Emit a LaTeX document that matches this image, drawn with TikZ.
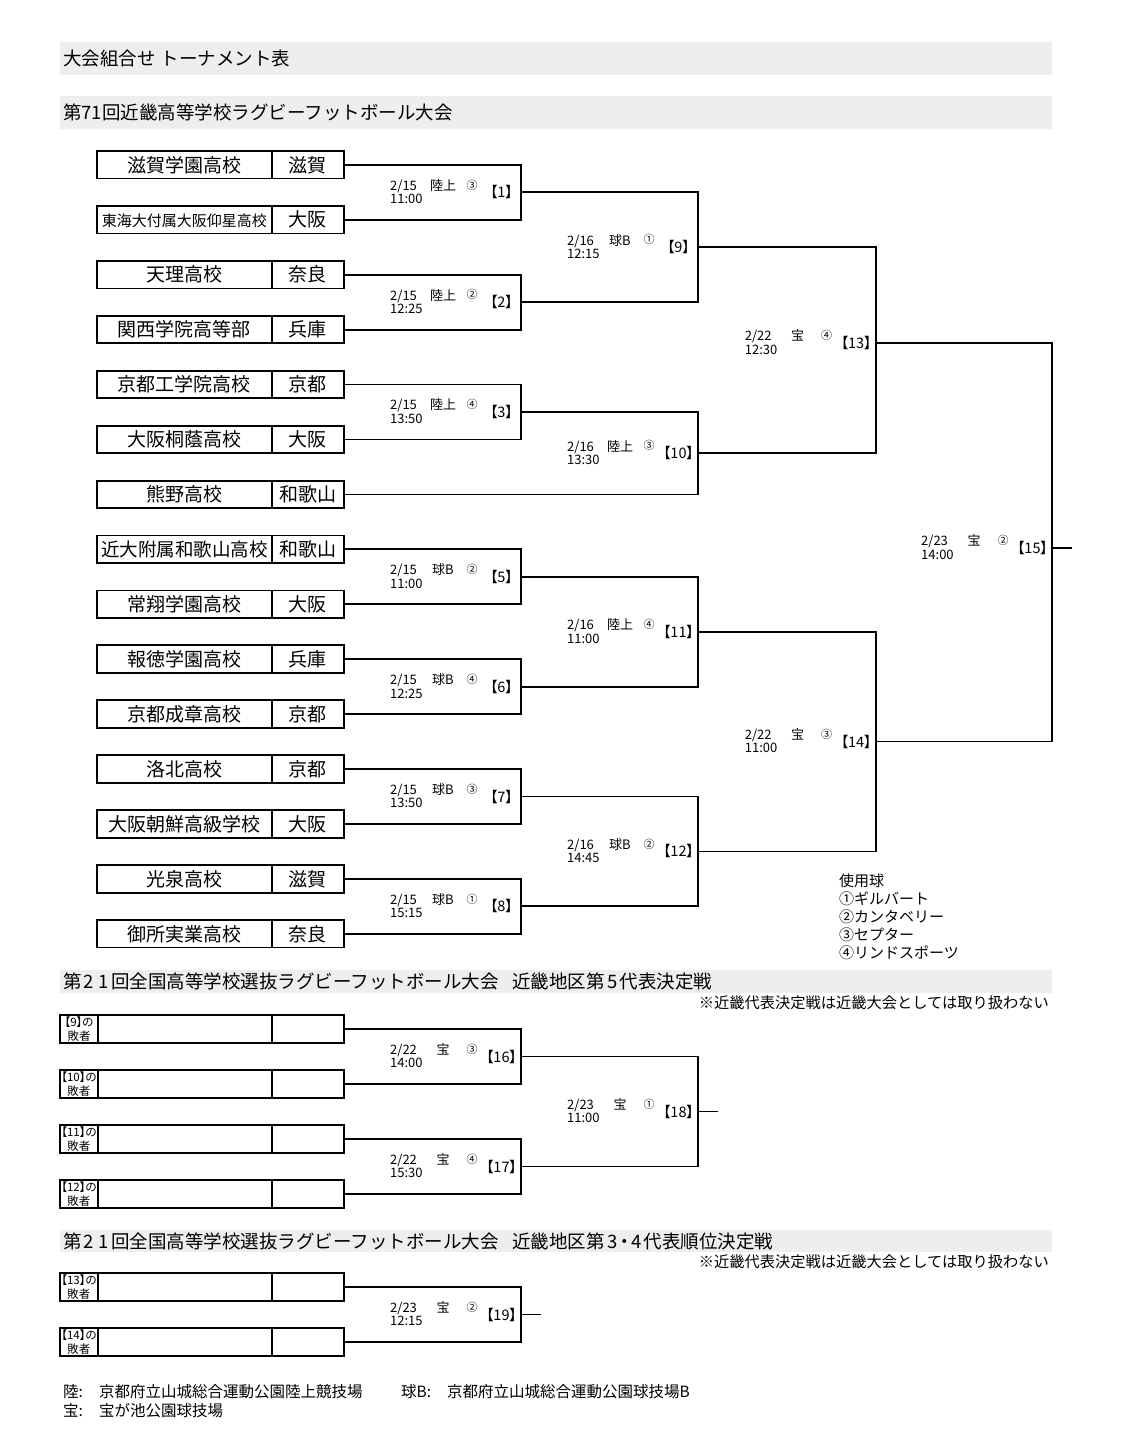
\documentclass[tikz,border=0pt]{standalone}
\usepackage{fontspec}
\setmainfont{Noto Sans CJK JP}
\newfontfamily\pfont{Noto Sans CJK JP}[RawFeature=+palt]
\newcommand\fsz[1]{\fontsize{#1}{#1}\selectfont}
\definecolor{bandg}{RGB}{238,238,238}
\tikzset{
  conn/.style={line width=1.8pt},
  cellbase/.style={draw, line width=1.8pt, inner sep=0pt, minimum height=27.5pt},
  cell/.style={cellbase, font=\fsz{19}, text height=16.7pt, text depth=2.3pt},
  namecell/.style={cell, minimum width=174.7pt},
  prefcell/.style={cell, minimum width=72.3pt},
  labcell/.style={cellbase, minimum width=38pt, align=center, font=\pfont\fontsize{11.5}{13.5}\selectfont},
  wcell/.style={cell, minimum width=173.7pt},
  hdr/.style={inner sep=0pt, anchor=west, font=\fsz{18.5}, text height=16.3pt, text depth=2.2pt},
  dt/.style={inner sep=0pt, anchor=west, font=\fsz{13}, text height=11.4pt, text depth=1.6pt},
  vn/.style={inner sep=0pt, anchor=center, font=\fsz{13}, text height=11.4pt, text depth=1.6pt},
  cn/.style={inner sep=0pt, anchor=center, font=\fsz{11}, text height=9.7pt, text depth=1.3pt},
  bl/.style={inner sep=0pt, anchor=center, font=\pfont\fsz{14.5}, text height=12.8pt, text depth=1.7pt},
  lg/.style={inner sep=0pt, anchor=west, font=\fsz{15}, text height=13.2pt, text depth=1.8pt},
  nt/.style={inner sep=0pt, anchor=east, font=\fsz{15.25}, text height=13.4pt, text depth=1.8pt},
  ft/.style={inner sep=0pt, anchor=west, font=\fsz{15.5}, text height=13.6pt, text depth=1.9pt},
}
% id, y, name, pref
\newcommand\teamrow[4]{%
  \node[namecell] (#1) at (184.35,#2) {#3};
  \node[prefcell] (#1p) at (307.85,#2) {#4};
}
% id, y, label
\newcommand\loserrow[3]{%
  \node[labcell] (#1l) at (79,#2) {#3};
  \node[wcell] (#1) at (184.85,#2) {};
  \node[prefcell] (#1p) at (307.85,#2) {};
}
% id, V, Y, date, time, venue, circ, number
\newcommand\mlabel[8]{%
  \node[dt] (#1d) at (#2-131,#3-7) {#4};
  \node[dt] (#1t) at (#2-131,#3+6.5) {#5};
  \node[vn] (#1v) at (#2-78,#3-7) {#6};
  \node[cn] (#1c) at (#2-49,#3-7.5) {#7};
  \node[bl] (#1b) at (#2-19.5,#3) {【#8】};
}
\newcommand\wdig[1]{\makebox[14.7pt]{#1}}
\begin{document}
\begin{tikzpicture}[x=1pt,y=-1pt]
\useasboundingbox (0,0) rectangle (1134,1444);
\fill[white] (0,0) rectangle (1134,1444);

% bands
\fill[bandg] (60,42) rectangle (1052,75);
\fill[bandg] (60,96) rectangle (1052,128.5);
\fill[bandg] (60,970) rectangle (1052,992.5);
\fill[bandg] (60,1230) rectangle (1052,1252);
\node[hdr] (h1) at (63,58.5) {大会組合せ\hspace{5pt}トーナメント表};
\node[hdr] (h2) at (63,112.5) {第71回近畿高等学校ラグビーフットボール大会};
\node[hdr] (h3) at (63,981) {第\wdig{2}\wdig{1}回全国高等学校選抜ラグビーフットボール大会\hspace{14pt}近畿地区第\wdig{5}代表決定戦};
\node[hdr] (h4) at (63,1241) {第\wdig{2}\wdig{1}回全国高等学校選抜ラグビーフットボール大会\hspace{14pt}近畿地区第\wdig{3}{\pfont ・}\wdig{4}代表順位決定戦};

% teams
\teamrow{t1}{164.8}{滋賀学園高校}{滋賀}
\teamrow{t2}{219.7}{{\fsz{15}東海大付属大阪仰星高校}}{大阪}
\teamrow{t3}{274.7}{天理高校}{奈良}
\teamrow{t4}{329.6}{関西学院高等部}{兵庫}
\teamrow{t5}{384.5}{京都工学院高校}{京都}
\teamrow{t6}{439.4}{大阪桐蔭高校}{大阪}
\teamrow{t7}{494.4}{熊野高校}{和歌山}
\teamrow{t8}{549.3}{{\fsz{18.5}近大附属和歌山高校}}{和歌山}
\teamrow{t9}{604.2}{常翔学園高校}{大阪}
\teamrow{t10}{659.1}{報徳学園高校}{兵庫}
\teamrow{t11}{714.0}{京都成章高校}{京都}
\teamrow{t12}{769.0}{洛北高校}{京都}
\teamrow{t13}{823.9}{大阪朝鮮高級学校}{大阪}
\teamrow{t14}{878.9}{光泉高校}{滋賀}
\teamrow{t15}{933.8}{御所実業高校}{奈良}

% match joints
\coordinate (m1) at (521,192.3);
\coordinate (m2) at (521,302.1);
\coordinate (m3) at (521,412.0);
\coordinate (m5) at (521,576.8);
\coordinate (m6) at (521,686.6);
\coordinate (m7) at (521,796.5);
\coordinate (m8) at (521,906.3);
\coordinate (m9) at (698,247.2);
\coordinate (m10) at (698,453.2);
\coordinate (m11) at (698,631.7);
\coordinate (m12) at (698,851.4);
\coordinate (m13) at (875.7,343);
\coordinate (m14) at (875.7,741.5);
\coordinate (m15) at (1052,548);
\coordinate (e15) at (1071.5,548);

\foreach \a/\m in {t1/m1,t2/m1,t3/m2,t4/m2,t5/m3,t6/m3,t7/m10,t8/m5,t9/m5,t10/m6,t11/m6,t12/m7,t13/m7,t14/m8,t15/m8}
  \draw[conn] (\a p.east) -| (\m);
\foreach \a/\m in {m1/m9,m2/m9,m3/m10,m5/m11,m6/m11,m7/m12,m8/m12,m9/m13,m10/m13,m11/m14,m12/m14,m13/m15,m14/m15}
  \draw[conn] (\a) -| (\m);
\draw[conn] (m15) -- (e15);

% labels
\mlabel{l1}{521}{192.3}{2/15}{11:00}{陸上}{③}{1}
\mlabel{l2}{521}{302.1}{2/15}{12:25}{陸上}{②}{2}
\mlabel{l3}{521}{412.0}{2/15}{13:50}{陸上}{④}{3}
\mlabel{l5}{521}{576.8}{2/15}{11:00}{球B}{②}{5}
\mlabel{l6}{521}{686.6}{2/15}{12:25}{球B}{④}{6}
\mlabel{l7}{521}{796.5}{2/15}{13:50}{球B}{③}{7}
\mlabel{l8}{521}{906.3}{2/15}{15:15}{球B}{①}{8}
\mlabel{l9}{698}{247.2}{2/16}{12:15}{球B}{①}{9}
\mlabel{l10}{698}{453.2}{2/16}{13:30}{陸上}{③}{10}
\mlabel{l11}{698}{631.7}{2/16}{11:00}{陸上}{④}{11}
\mlabel{l12}{698}{851.4}{2/16}{14:45}{球B}{②}{12}
\mlabel{l13}{875.7}{343}{2/22}{12:30}{宝}{④}{13}
\mlabel{l14}{875.7}{741.5}{2/22}{11:00}{宝}{③}{14}
\mlabel{l15}{1052}{548}{2/23}{14:00}{宝}{②}{15}

% legend
\node[lg] (g0) at (839,880.5) {使用球};
\node[lg] (g1) at (839,898.5) {①ギルバート};
\node[lg] (g2) at (839,916.5) {②カンタベリー};
\node[lg] (g3) at (839,934.5) {③セプター};
\node[lg] (g4) at (839,952.5) {④リンドスポーツ};

% section 2
\node[nt] (n1) at (1049,1003) {※近畿代表決定戦は近畿大会としては取り扱わない};
\loserrow{s1}{1029}{【9】の\\敗者}
\loserrow{s2}{1084}{【10】の\\敗者}
\loserrow{s3}{1139}{【11】の\\敗者}
\loserrow{s4}{1194}{【12】の\\敗者}
\coordinate (m16) at (521,1056.5);
\coordinate (m17) at (521,1166.5);
\coordinate (m18) at (698,1111.5);
\coordinate (e18) at (717.5,1111.5);
\foreach \a/\m in {s1/m16,s2/m16,s3/m17,s4/m17}
  \draw[conn] (\a p.east) -| (\m);
\foreach \a/\m in {m16/m18,m17/m18}
  \draw[conn] (\a) -| (\m);
\draw[conn] (m18) -- (e18);
\mlabel{l16}{521}{1056.5}{2/22}{14:00}{宝}{③}{16}
\mlabel{l17}{521}{1166.5}{2/22}{15:30}{宝}{④}{17}
\mlabel{l18}{698}{1111.5}{2/23}{11:00}{宝}{①}{18}

% section 3
\node[nt] (n2) at (1049,1262) {※近畿代表決定戦は近畿大会としては取り扱わない};
\loserrow{r1}{1287}{【13】の\\敗者}
\loserrow{r2}{1342}{【14】の\\敗者}
\coordinate (m19) at (521,1314.5);
\coordinate (e19) at (540.5,1314.5);
\foreach \a in {r1,r2}
  \draw[conn] (\a p.east) -| (m19);
\draw[conn] (m19) -- (e19);
\mlabel{l19}{521}{1314.5}{2/23}{12:15}{宝}{②}{19}

% footer
\node[ft] (f1) at (63,1392) {陸:};
\node[ft] (f2) at (99,1392) {京都府立山城総合運動公園陸上競技場};
\node[ft] (f3) at (401,1392) {球B:};
\node[ft] (f4) at (447,1392) {京都府立山城総合運動公園球技場B};
\node[ft] (f5) at (63,1411) {宝:};
\node[ft] (f6) at (99,1411) {宝が池公園球技場};
\end{tikzpicture}
\end{document}
